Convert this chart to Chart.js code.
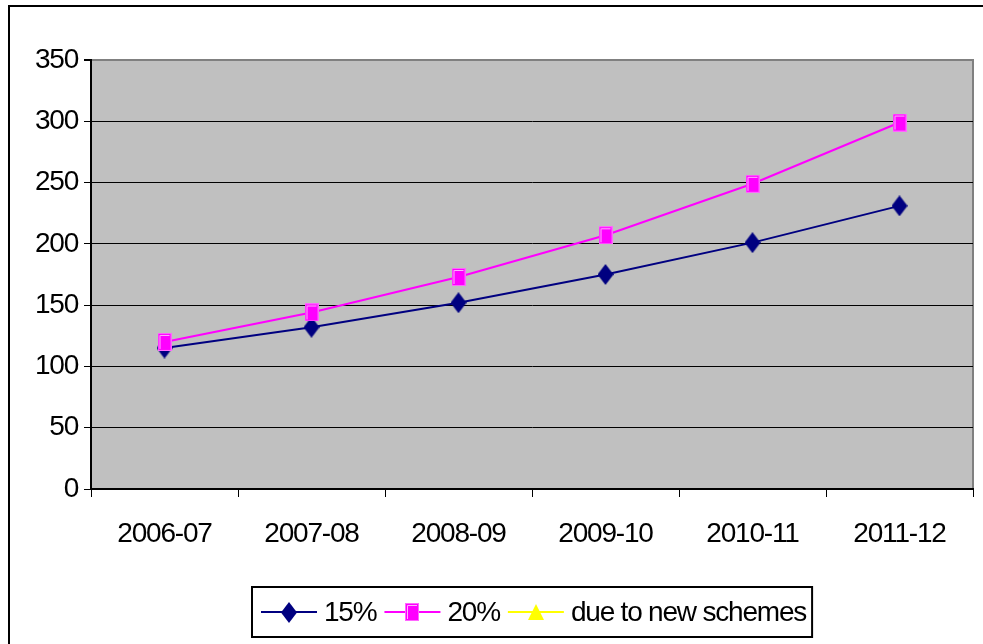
<!DOCTYPE html>
<html>
<head>
<meta charset="utf-8">
<script src="https://cdn.jsdelivr.net/npm/chart.js@4/dist/chart.umd.min.js"></script>
<style>
html,body{margin:0;padding:0;background:#fff;}
#wrap{width:983px;height:644px;position:relative;}
</style>
</head>
<body>
<div id="wrap"><canvas id="c" width="983" height="644"></canvas></div>
<script>
const categories = ['2006-07','2007-08','2008-09','2009-10','2010-11','2011-12'];
const series15 = [115, 132, 152, 175, 201, 231];
const series20 = [120, 144, 173, 207, 249, 299];
const seriesNew = [null, null, null, null, null, null];
const seriesLabels = ['15%', '20%', 'due to new schemes'];
const yTicks = {min: 0, max: 350, step: 50};

const FONT = '"Liberation Sans", Arial, sans-serif';
const FSIZE = 28;
const LSP = '-1.2px';

function makeDiamond(){
  const c = document.createElement('canvas'); c.width = 16; c.height = 21;
  const g = c.getContext('2d');
  g.fillStyle = '#000080';
  g.beginPath(); g.moveTo(8,0); g.lineTo(16,10.5); g.lineTo(8,21); g.lineTo(0,10.5); g.closePath(); g.fill();
  return c;
}
function makeSquare(){
  const c = document.createElement('canvas'); c.width = 14; c.height = 18;
  const g = c.getContext('2d');
  g.fillStyle = '#FF00FF'; g.fillRect(0,0,14,18);
  g.strokeStyle = '#FF66FF'; g.lineWidth = 1; g.strokeRect(0.5,0.5,13,17);
  g.strokeStyle = '#FFB0FF';
  g.beginPath(); g.moveTo(2.5,16); g.lineTo(2.5,2.5); g.lineTo(12,2.5); g.stroke();
  return c;
}
function makeTriangle(){
  const c = document.createElement('canvas'); c.width = 16; c.height = 16;
  const g = c.getContext('2d');
  g.fillStyle = '#FFFF00';
  g.beginPath(); g.moveTo(8,0); g.lineTo(16,16); g.lineTo(0,16); g.closePath(); g.fill();
  return c;
}
const imgs = [makeDiamond(), makeSquare(), makeTriangle()];
const colors = ['#000080', '#FF00FF', '#FFFF00'];

const framePlugin = {
  id: 'frame',
  beforeDraw(chart){
    const {ctx, chartArea:a} = chart;
    ctx.letterSpacing = LSP;
    ctx.save();
    ctx.fillStyle = '#C0C0C0';
    ctx.fillRect(a.left, a.top, a.right - a.left, a.bottom - a.top);
    ctx.strokeStyle = '#808080'; ctx.lineWidth = 2;
    ctx.beginPath(); ctx.moveTo(a.left, a.top); ctx.lineTo(a.right, a.top); ctx.lineTo(a.right, a.bottom); ctx.stroke();
    ctx.strokeStyle = '#000'; ctx.lineWidth = 2;
    ctx.strokeRect(9, 6, 1100, 800);
    ctx.restore();
  },
  afterDraw(chart){
    const ctx = chart.ctx;
    ctx.save();
    ctx.letterSpacing = LSP;
    ctx.font = FSIZE + 'px ' + FONT;
    ctx.textBaseline = 'middle';
    const lineLen = 56, gapA = 7, gapB = 8, padL = 9, padR = 6;
    const ds = chart.data.datasets;
    let total = padL + padR;
    ds.forEach((d,i)=>{ total += lineLen + gapA + ctx.measureText(d.label).width; if(i<ds.length-1) total += gapB; });
    const cx = 532, cy = 612;
    const left = Math.round(cx - total/2);
    ctx.strokeStyle = '#000'; ctx.lineWidth = 2;
    ctx.strokeRect(left, 587, total, 50);
    let x = left + padL;
    ds.forEach((d,i)=>{
      ctx.strokeStyle = colors[i]; ctx.lineWidth = 2;
      ctx.beginPath(); ctx.moveTo(x, cy); ctx.lineTo(x+lineLen, cy); ctx.stroke();
      const im = imgs[i];
      ctx.drawImage(im, Math.round(x + lineLen/2 - im.width/2), Math.round(cy - im.height/2));
      x += lineLen + gapA;
      ctx.fillStyle = '#000';
      ctx.textAlign = 'left';
      ctx.fillText(d.label, x, cy + 1);
      x += ctx.measureText(d.label).width + gapB;
    });
    ctx.restore();
  }
};

new Chart(document.getElementById('c'), {
  type: 'line',
  data: {
    labels: categories,
    datasets: [
      {label: seriesLabels[0], data: series15, borderColor: colors[0], borderWidth: 2, pointStyle: imgs[0], pointRadius: 8, tension: 0, order: 2},
      {label: seriesLabels[1], data: series20, borderColor: colors[1], borderWidth: 2, pointStyle: imgs[1], pointRadius: 8, tension: 0, order: 1},
      {label: seriesLabels[2], data: seriesNew, borderColor: colors[2], borderWidth: 2, pointStyle: imgs[2], pointRadius: 8, tension: 0, order: 0}
    ]
  },
  options: {
    responsive: false,
    animation: false,
    devicePixelRatio: 1,
    layout: {padding: {left: 0, top: 60, right: 8, bottom: 0}},
    plugins: {legend: {display: false}, tooltip: {enabled: false}},
    scales: {
      x: {
        type: 'category',
        offset: true,
        grid: {display: true, drawOnChartArea: false, drawTicks: true, tickLength: 8, tickColor: '#000', offset: true, color: '#000'},
        border: {display: true, color: '#000', width: 2},
        ticks: {color: '#000', font: {family: FONT, size: FSIZE}, padding: 20, maxRotation: 0, minRotation: 0, autoSkip: false},
        afterFit(s){ s.height = 155; }
      },
      y: {
        min: yTicks.min, max: yTicks.max,
        grid: {display: true, color: (c)=> c.tick && c.tick.value === yTicks.max ? '#808080' : '#000', lineWidth: (c)=> c.tick && c.tick.value === yTicks.max ? 2 : 1, drawTicks: true, tickLength: 7, tickColor: '#000'},
        border: {display: true, color: '#000', width: 2},
        ticks: {stepSize: yTicks.step, color: '#000', font: {family: FONT, size: FSIZE}, padding: 6},
        afterFit(s){ s.width = 91; }
      }
    }
  },
  plugins: [framePlugin]
});
</script>
</body>
</html>
